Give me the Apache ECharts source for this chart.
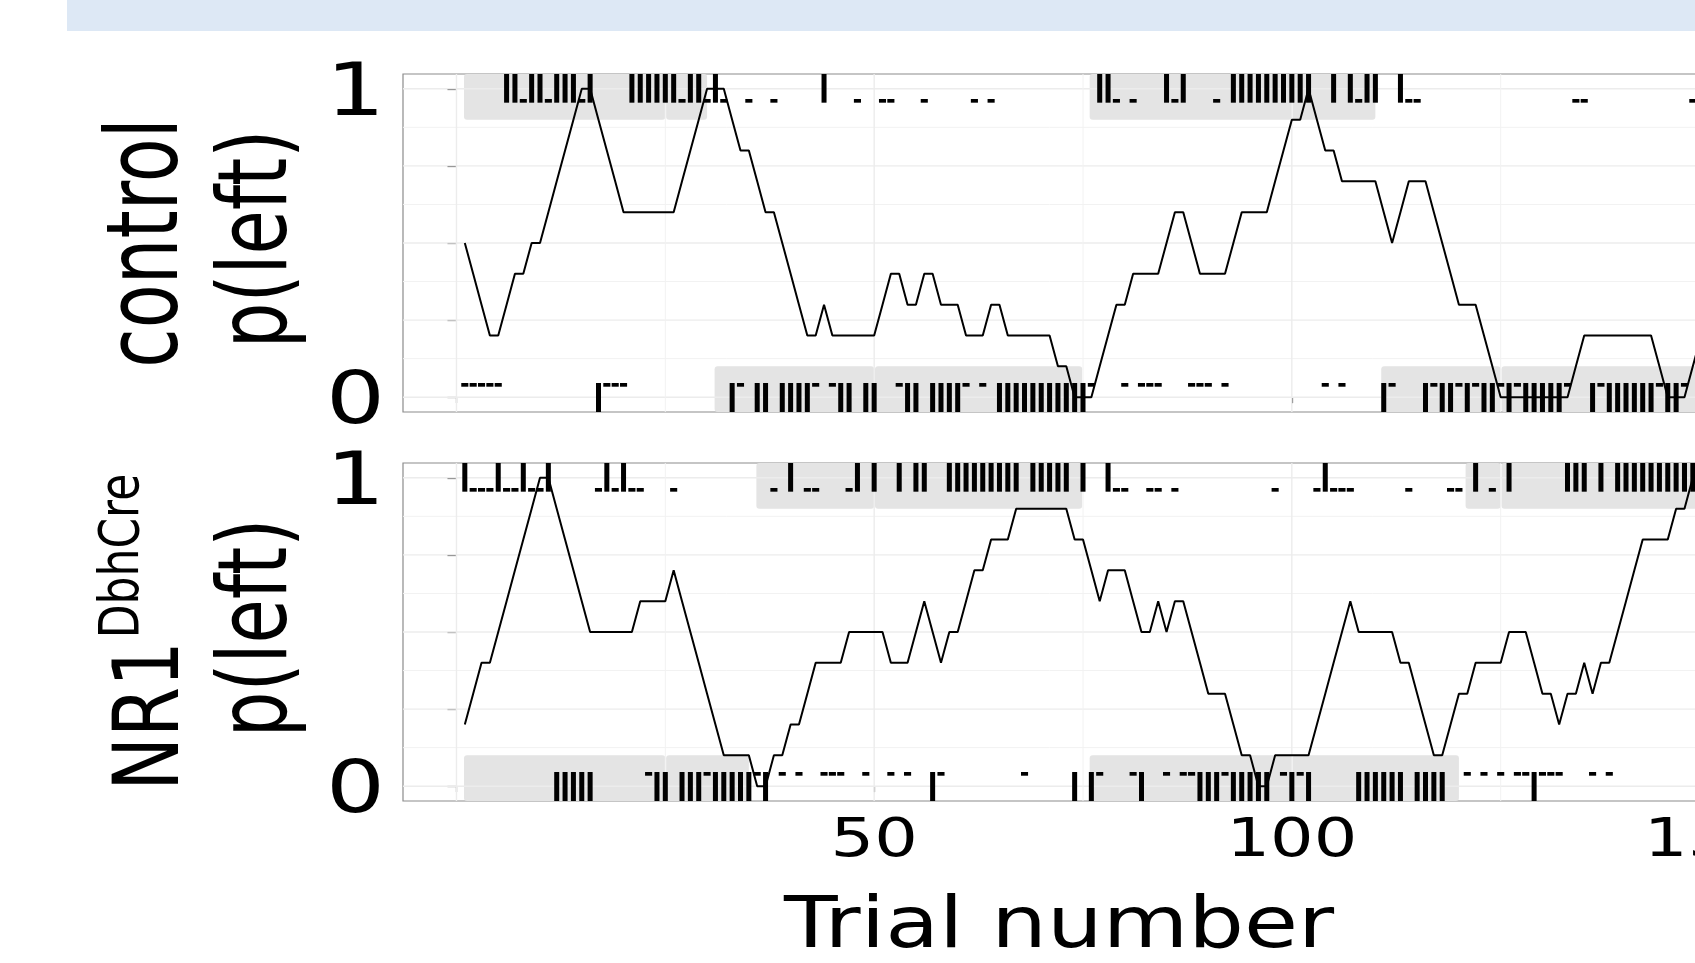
<!DOCTYPE html>
<html>
<head>
<meta charset="utf-8">
<script src="https://cdn.jsdelivr.net/npm/echarts@6/dist/echarts.min.js"></script>
<style>
    html, body { margin: 0; padding: 0; background: #fff; }
    #chart { width: 1695px; height: 963px; }
</style>
</head>
<body>
<div id="chart"></div>
<script>
    // p(left), running 10-trial average, one value per trial (trial 1..149)
    var ctrlPLeft = [
        0.5, 0.4, 0.3, 0.2, 0.2, 0.3, 0.4, 0.4, 0.5, 0.5,
        0.6, 0.7, 0.8, 0.9, 1.0, 1.0, 0.9, 0.8, 0.7, 0.6,
        0.6, 0.6, 0.6, 0.6, 0.6, 0.6, 0.7, 0.8, 0.9, 1.0,
        1.0, 1.0, 0.9, 0.8, 0.8, 0.7, 0.6, 0.6, 0.5, 0.4,
        0.3, 0.2, 0.2, 0.3, 0.2, 0.2, 0.2, 0.2, 0.2, 0.2,
        0.3, 0.4, 0.4, 0.3, 0.3, 0.4, 0.4, 0.3, 0.3, 0.3,
        0.2, 0.2, 0.2, 0.3, 0.3, 0.2, 0.2, 0.2, 0.2, 0.2,
        0.2, 0.1, 0.1, 0.0, 0.0, 0.0, 0.1, 0.2, 0.3, 0.3,
        0.4, 0.4, 0.4, 0.4, 0.5, 0.6, 0.6, 0.5, 0.4, 0.4,
        0.4, 0.4, 0.5, 0.6, 0.6, 0.6, 0.6, 0.7, 0.8, 0.9,
        0.9, 1.0, 0.9, 0.8, 0.8, 0.7, 0.7, 0.7, 0.7, 0.7,
        0.6, 0.5, 0.6, 0.7, 0.7, 0.7, 0.6, 0.5, 0.4, 0.3,
        0.3, 0.3, 0.2, 0.1, 0.0, 0.0, 0.0, 0.0, 0.0, 0.0,
        0.0, 0.0, 0.0, 0.1, 0.2, 0.2, 0.2, 0.2, 0.2, 0.2,
        0.2, 0.2, 0.2, 0.1, 0.0, 0.0, 0.0, 0.1, 0.2
    ];
    var nr1PLeft = [
        0.2, 0.3, 0.4, 0.4, 0.5, 0.6, 0.7, 0.8, 0.9, 1.0,
        1.0, 0.9, 0.8, 0.7, 0.6, 0.5, 0.5, 0.5, 0.5, 0.5,
        0.5, 0.6, 0.6, 0.6, 0.6, 0.7, 0.6, 0.5, 0.4, 0.3,
        0.2, 0.1, 0.1, 0.1, 0.1, 0.0, 0.0, 0.1, 0.1, 0.2,
        0.2, 0.3, 0.4, 0.4, 0.4, 0.4, 0.5, 0.5, 0.5, 0.5,
        0.5, 0.4, 0.4, 0.4, 0.5, 0.6, 0.5, 0.4, 0.5, 0.5,
        0.6, 0.7, 0.7, 0.8, 0.8, 0.8, 0.9, 0.9, 0.9, 0.9,
        0.9, 0.9, 0.9, 0.8, 0.8, 0.7, 0.6, 0.7, 0.7, 0.7,
        0.6, 0.5, 0.5, 0.6, 0.5, 0.6, 0.6, 0.5, 0.4, 0.3,
        0.3, 0.3, 0.2, 0.1, 0.1, 0.0, 0.0, 0.1, 0.1, 0.1,
        0.1, 0.1, 0.2, 0.3, 0.4, 0.5, 0.6, 0.5, 0.5, 0.5,
        0.5, 0.5, 0.4, 0.4, 0.3, 0.2, 0.1, 0.1, 0.2, 0.3,
        0.3, 0.4, 0.4, 0.4, 0.4, 0.5, 0.5, 0.5, 0.4, 0.3,
        0.3, 0.2, 0.3, 0.3, 0.4, 0.3, 0.4, 0.4, 0.5, 0.6,
        0.7, 0.8, 0.8, 0.8, 0.8, 0.9, 0.9, 1.0, 1.0
    ];

    // trial outcome: 2 left+reward, 1 left no reward, -1 right no reward, -2 right+reward, 0 no mark
    var ctrlOutcome = [
        -1, -1, -1, -1, -1,  2,  2,  1,  2,  2,
         1,  2,  2,  2,  1,  2, -2, -1, -1, -1,
         2,  2,  2,  2,  2,  2,  1,  2,  2,  1,
         2,  1, -2, -1,  1, -2, -2,  1, -2, -2,
        -2, -2, -1,  2, -1, -2, -2,  1, -2, -2,
         1,  1, -1, -2, -2,  1, -2, -2, -2, -2,
        -1,  1, -1,  1, -2, -2, -2, -2, -2, -2,
        -2, -2, -2, -2, -2, -1,  2,  2,  1, -1,
         1, -1, -1, -1,  2,  1,  2, -1, -1, -1,
         1, -1,  2,  2,  2,  2,  2,  2,  2,  2,
         2,  2,  0, -1,  2, -1,  2,  1,  2,  2,
        -2, -1,  2,  1,  1, -2, -1, -2, -2, -1,
        -2, -1, -2, -2, -1, -2, -1, -2, -2, -2,
        -2, -2, -1,  1,  1, -2, -1, -2, -2, -2,
        -2, -2, -2, -1, -2, -2, -1,  1,  1
    ];
    var nr1Outcome = [
         2,  1,  1,  1,  2,  1,  1,  2,  1,  1,
         2, -2, -2, -2, -2, -2,  1,  2,  1,  2,
         1,  1, -1, -2, -2,  1, -2, -2, -2, -1,
        -2, -2, -2, -2, -2, -1, -2,  1, -1,  2,
        -1,  1,  1, -1, -1, -1,  1,  2, -1,  2,
         0, -1,  2, -1,  2,  2, -2, -1,  2,  2,
         2,  2,  2,  2,  2,  2,  2, -1,  2,  2,
         2,  2,  2, -2,  2, -2, -1,  2,  1,  1,
        -1, -2,  1,  1, -1,  1, -1, -1, -2, -2,
        -2, -1, -2, -2, -2, -2, -2,  1, -1, -2,
        -1, -2,  1,  2,  1,  1,  1, -2, -2, -2,
        -2, -2, -2,  1, -2, -2, -2, -2,  1,  1,
        -1,  2, -1,  1, -1,  2, -1, -1, -2, -1,
        -1, -1,  2,  2,  2, -1,  2, -1,  2,  2,
         2,  2,  2,  2,  2,  2,  2,  2,  2
    ];

    // shaded blocks [from, to] in trials: upper = left side favoured, lower = right side favoured
    var ctrlUpperBlocks = [[0.9, 25], [25.1, 30], [75.8, 100], [100.1, 110]];
    var ctrlLowerBlocks = [[30.9, 50], [50.1, 74.9], [110.7, 125], [125.1, 170]];
    var nr1UpperBlocks = [[35.9, 50], [50.1, 74.9], [120.8, 125], [125.1, 170]];
    var nr1LowerBlocks = [[0.9, 25], [25.1, 35], [75.8, 100], [100.1, 120]];

    var yTickValues = [0, 0.25, 0.5, 0.75, 1];
    var yLabelValues = [0, 1];
    var yMinorGrid = [0.125, 0.375, 0.625, 0.875];
    var xTickValues = [0, 50, 100, 150];
    var xLabelValues = [50, 100, 150];
    var xMinorGrid = [25, 75, 125];

    var X_MIN = -6.4, X_MAX = 156.4, Y_MIN = -0.048, Y_MAX = 1.048;
    var FONT = 'DejaVu Sans';
    var STRETCH = 1.27;

    var chart = echarts.init(document.getElementById('chart'), null, {renderer: 'canvas'});

    function series2d(values) {
        return values.map(function (v, i) { return [i + 1, v]; });
    }

    function blockData(upper, lower) {
        var out = [];
        upper.forEach(function (b) { out.push([b[0], b[1], 0.9, Y_MAX]); });
        lower.forEach(function (b) { out.push([b[0], b[1], Y_MIN, 0.1]); });
        return out;
    }

    function renderBlock(params, api) {
        var p1 = api.coord([api.value(0), api.value(3)]);
        var p2 = api.coord([api.value(1), api.value(2)]);
        return {
            type: 'rect',
            shape: {x: p1[0], y: p1[1], width: p2[0] - p1[0], height: p2[1] - p1[1], r: 3},
            style: {fill: '#e4e4e4'}
        };
    }

    function gridData() {
        var out = [];
        yTickValues.forEach(function (v) { out.push([0, v, 1]); });
        yMinorGrid.forEach(function (v) { out.push([0, v, 0]); });
        xTickValues.forEach(function (v) { out.push([1, v, 1]); });
        xMinorGrid.forEach(function (v) { out.push([1, v, 0]); });
        return out;
    }

    function renderGrid(params, api) {
        var vertical = api.value(0) === 1, v = api.value(1), major = api.value(2) === 1;
        var a = vertical ? api.coord([v, Y_MIN]) : api.coord([X_MIN, v]);
        var b = vertical ? api.coord([v, Y_MAX]) : api.coord([X_MAX, v]);
        return {
            type: 'line',
            shape: {x1: a[0], y1: a[1], x2: b[0], y2: b[1]},
            style: {stroke: major ? '#ececec' : '#f2f2f2', lineWidth: major ? 1.4 : 1}
        };
    }

    function renderMark(params, api) {
        var t = api.value(0), code = api.value(1);
        if (!code) return;
        var big = Math.abs(code) === 2;
        var range;
        if (code > 0) range = big ? [0.955, Y_MAX] : [0.955, 0.967];
        else range = big ? [Y_MIN, 0.046] : [0.034, 0.046];
        var w = api.size([big ? 0.6 : 0.85, 0])[0];
        var top = api.coord([t, range[1]]);
        var bot = api.coord([t, range[0]]);
        return {
            type: 'rect',
            shape: {x: top[0] - w / 2, y: top[1], width: w, height: bot[1] - top[1]},
            style: {fill: '#000'}
        };
    }

    function xAxisCfg(idx) {
        return {
            type: 'value', gridIndex: idx, min: X_MIN, max: X_MAX,
            axisLine: {show: false},
            axisTick: {show: true, customValues: xTickValues, length: 6, lineStyle: {color: '#444', width: 1.2}},
            axisLabel: {show: false},
            splitLine: {show: false}
        };
    }

    function yAxisCfg(idx) {
        return {
            type: 'value', gridIndex: idx, min: Y_MIN, max: Y_MAX,
            axisLine: {show: false},
            axisTick: {show: true, customValues: yTickValues, length: 9, lineStyle: {color: '#444', width: 1.2}},
            axisLabel: {show: false},
            splitLine: {show: false}
        };
    }

    var panels = [
        {pl: ctrlPLeft, oc: ctrlOutcome, up: ctrlUpperBlocks, lo: ctrlLowerBlocks},
        {pl: nr1PLeft, oc: nr1Outcome, up: nr1UpperBlocks, lo: nr1LowerBlocks}
    ];

    var series = [];
    panels.forEach(function (p, g) {
        series.push({
            type: 'custom', xAxisIndex: g, yAxisIndex: g, z: 1, silent: true,
            renderItem: renderBlock, data: blockData(p.up, p.lo)
        });
        series.push({
            type: 'custom', xAxisIndex: g, yAxisIndex: g, z: 2, silent: true,
            renderItem: renderGrid, data: gridData()
        });
        series.push({
            type: 'line', xAxisIndex: g, yAxisIndex: g, z: 3, silent: true,
            data: series2d(p.pl), showSymbol: false, animation: false,
            lineStyle: {color: '#000', width: 2}
        });
        series.push({
            type: 'custom', xAxisIndex: g, yAxisIndex: g, z: 4, silent: true,
            renderItem: renderMark, data: series2d(p.oc)
        });
    });

    var gridBase = {
        left: 403, width: 1360, height: 338, show: true, outerBoundsMode: 'none', containLabel: false,
        borderColor: '#8c8c8c', borderWidth: 1.2, backgroundColor: '#fff'
    };

    chart.setOption({
        animation: false,
        grid: [
            Object.assign({top: 74}, gridBase),
            Object.assign({top: 463}, gridBase)
        ],
        xAxis: [xAxisCfg(0), xAxisCfg(1)],
        yAxis: [yAxisCfg(0), yAxisCfg(1)],
        series: series
    });

    // texts, placed from the axes' own pixel mapping
    function txt(text, x, y, size, opt) {
        opt = opt || {};
        return {
            type: 'text', x: x, y: y, rotation: opt.rot || 0,
            scaleX: opt.sx || 1, scaleY: opt.sy || 1, z: 10,
            style: {
                text: text, fill: '#000', fontFamily: FONT, fontSize: size,
                align: opt.align || 'center', textAlign: opt.align || 'center',
                verticalAlign: 'middle', textVerticalAlign: 'middle'
            }
        };
    }

    var elements = [
        {type: 'rect', shape: {x: 67, y: 0, width: 1628, height: 31}, style: {fill: '#dde8f5'}, z: 0}
    ];

    [0, 1].forEach(function (g) {
        yLabelValues.forEach(function (v) {
            var p = chart.convertToPixel({gridIndex: g}, [X_MIN, v]);
            elements.push(txt(String(v), p[0] - 18, p[1] + 7, 73, {align: 'right', sx: STRETCH}));
        });
    });
    xLabelValues.forEach(function (v) {
        var p = chart.convertToPixel({gridIndex: 1}, [v, Y_MIN]);
        elements.push(txt(String(v), p[0], p[1] + 41, 54, {sx: STRETCH}));
    });

    var topMid = chart.convertToPixel({gridIndex: 0}, [X_MIN, 0.5])[1];
    var botMid = chart.convertToPixel({gridIndex: 1}, [X_MIN, 0.5])[1];
    var ROT = Math.PI / 2;
    elements.push(txt('control', 151, topMid, 72, {rot: ROT, sy: 1.38}));
    elements.push(txt('p(left)', 261, topMid - 4, 72, {rot: ROT, sy: 1.33}));
    elements.push(txt('NR1', 154, botMid + 84, 72, {rot: ROT, sy: STRETCH}));
    elements.push(txt('DbhCre', 123, botMid - 76, 44, {rot: ROT, sy: STRETCH}));
    elements.push(txt('p(left)', 261, botMid - 4, 72, {rot: ROT, sy: 1.33}));

    elements.push(txt('Trial number', 1059, 928, 72, {sx: 1.22}));

    chart.setOption({graphic: {elements: elements}});
</script>
</body>
</html>
